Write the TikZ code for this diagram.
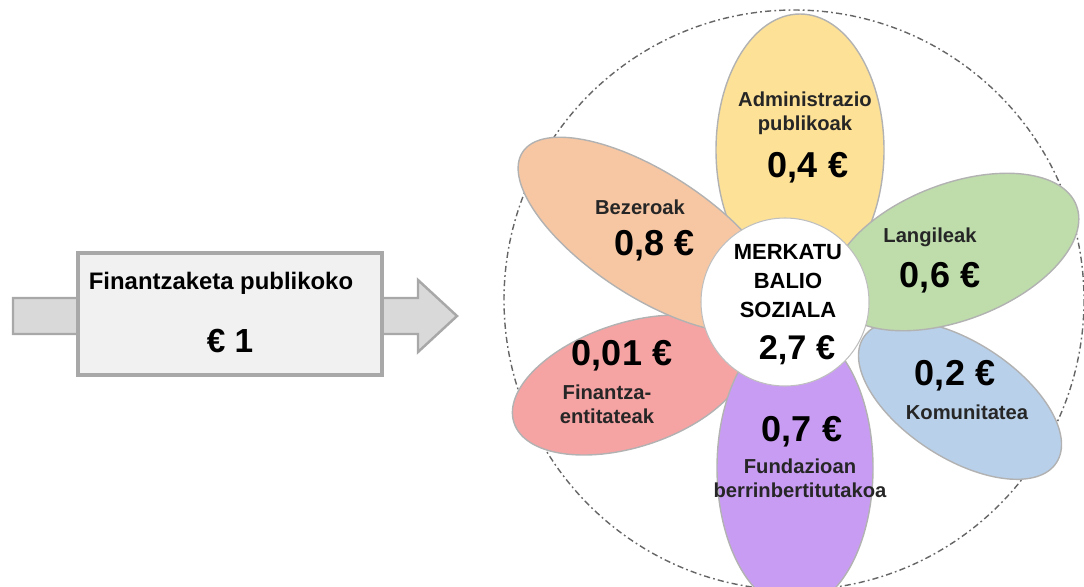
\documentclass[tikz,border=0pt]{standalone}
\usepackage{fontspec}
\setmainfont{Liberation Sans}
\usetikzlibrary{positioning, calc}
\definecolor{petyellow}{HTML}{FDE196}
\definecolor{petorange}{HTML}{F7C7A3}
\definecolor{petgreen}{HTML}{BEDDAB}
\definecolor{petblue}{HTML}{B8D0EA}
\definecolor{petred}{HTML}{F6A3A4}
\definecolor{petpurple}{HTML}{C99CF4}
\definecolor{boxfill}{HTML}{F1F1F1}
\definecolor{boxline}{HTML}{A8A8A8}
\definecolor{arrowfill}{HTML}{D9D9D9}

\begin{document}
\begin{tikzpicture}[x=0.02cm, y=-0.02cm,
                petal/.style={draw=black!30, line width=0.8pt},
                petlabel/.style={font=\fontsize{11.5}{13.5}\selectfont\bfseries, text=black!85, align=center, inner sep=0pt},
                petvalue/.style={font=\fontsize{20.5}{22}\selectfont\bfseries, inner sep=0pt},
                centerlabel/.style={font=\fontsize{12.5}{16.3}\selectfont\bfseries, align=center, inner sep=0pt},
                inbox/.style={draw=boxline, line width=1.8pt, fill=boxfill, minimum width=304*0.02cm, minimum height=122*0.02cm}
            ]

            \useasboundingbox (0,0) rectangle (1084,586);
            \clip (0,0) rectangle (1084,586);

            % Pfeil und Kasten links
            \draw[draw=boxline, line width=1.4pt, fill=arrowfill]
                (13,298) -- (418,298) -- (418,280) -- (457,316) -- (418,352) -- (418,334) -- (13,334) -- cycle;
            \node[inbox] (fund) at (230,314) {};
            \node[font=\fontsize{13.6}{15}\selectfont\bfseries, inner sep=0pt] (fundlbl) at (221,283) {Finantzaketa publikoko};
            \node[font=\fontsize{19}{21}\selectfont\bfseries, inner sep=0pt] (fundval) at (230,341) {€ 1};

            % Kreis gestrichelt
            \draw[black!60, line width=0.8pt, dash pattern=on 3.5pt off 1.8pt on 1pt off 1.8pt] (794,300) circle [radius=290];

            % Bluetenblaetter
            \draw[petal, fill=petred, rotate around={18:(630,385)}] (630,385) ellipse [x radius=122, y radius=62];
            \draw[petal, fill=petblue, rotate around={-33:(960,400)}] (960,400) ellipse [x radius=115, y radius=58];
            \draw[petal, fill=petyellow] (800,150) ellipse [x radius=84, y radius=136];
            \draw[petal, fill=petpurple] (795,468) ellipse [x radius=78, y radius=140];
            \draw[petal, fill=petorange, rotate around={-33:(650,235)}] (650,235) ellipse [x radius=152, y radius=62];
            \draw[petal, fill=petgreen, rotate around={21:(955,252)}] (955,252) ellipse [x radius=130, y radius=68];

            % Mitte
            \node[circle, draw=black!25, line width=0.6pt, fill=white, minimum size=168*0.02cm] (merkatu) at (785,302) {};
            \node[centerlabel] (merkatulbl) at (788,281) {MERKATU\\BALIO\\SOZIALA};
            \node[petvalue, font=\fontsize{19.5}{21}\selectfont\bfseries] (merkatuval) at (797,350) {2,7 €};

            % Beschriftungen
            \node[petlabel] (adminlbl) at (805,113) {Administrazio\\publikoak};
            \node[petvalue] (adminval) at (808,168) {0,4 €};
            \node[petlabel] (bezlbl) at (640,207) {Bezeroak};
            \node[petvalue] (bezval) at (655,246) {0,8 €};
            \node[petlabel] (langlbl) at (930,237) {Langileak};
            \node[petvalue] (langval) at (940,278) {0,6 €};
            \node[petvalue] (finval) at (622,356) {0,01 €};
            \node[petlabel] (finlbl) at (607,404) {Finantza-\\entitateak};
            \node[petvalue] (komval) at (955,376) {0,2 €};
            \node[petlabel] (komlbl) at (967,412) {Komunitatea};
            \node[petvalue] (fundazval) at (802,432) {0,7 €};
            \node[petlabel] (fundazlbl) at (800,478) {Fundazioan\\berrinbertitutakoa};

        \end{tikzpicture}
\end{document}
